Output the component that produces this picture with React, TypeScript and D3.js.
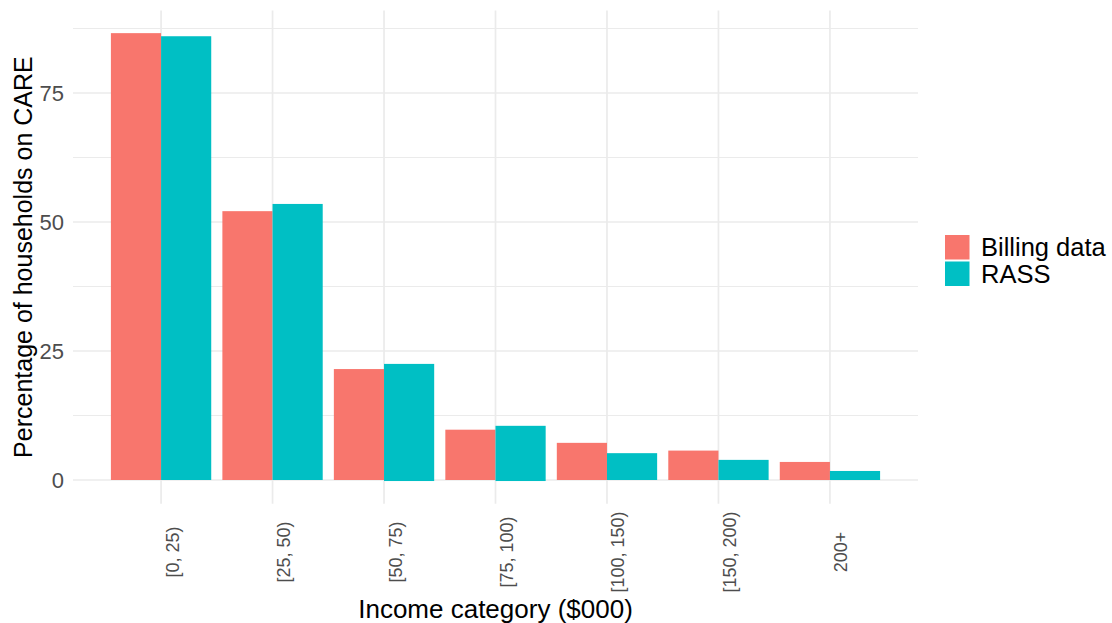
import { useEffect, useRef } from 'react';
import * as d3 from 'd3';

const categories = ['[0, 25)', '[25, 50)', '[50, 75)', '[75, 100)', '[100, 150)', '[150, 200)', '200+'];
const billing = [86.6, 52.1, 21.5, 9.75, 7.2, 5.7, 3.5];
const rass = [86.0, 53.5, 22.5, 10.5, 5.2, 3.9, 1.75];
// a couple of RASS bars dip just under zero in the source
const rassLow = [0, 0, -0.2, -0.2, 0, 0, 0];
const yTicks = [0, 25, 50, 75];
const yMinor = [12.5, 37.5, 62.5, 87.5];
const seriesNames = ['Billing data', 'RASS'];
const seriesColors = ['#F8766D', '#00BFC4'];

const W = 1112;
const H = 623;
const FONT = '"Liberation Sans", Arial, Helvetica, sans-serif';

export default function App() {
  const ref = useRef<SVGSVGElement>(null);

  useEffect(() => {
    if (!ref.current) return;
    const svg = d3.select(ref.current);
    svg.selectAll('*').remove();

    const left = 73;
    const right = 918;
    const x = d3.scalePoint<string>().domain(categories).range([left, right]).padding(0.79);
    const step = x.step();
    const barW = step * 0.45;

    const y = d3.scaleLinear().domain([0, 75]).range([480, 93]);
    const top = y(91);
    const bottom = y(-4.6);

    const g = svg.append('g');

    // grid
    g.selectAll('line.minor')
      .data(yMinor)
      .enter()
      .append('line')
      .attr('x1', left)
      .attr('x2', right)
      .attr('y1', (d) => y(d))
      .attr('y2', (d) => y(d))
      .attr('stroke', '#EBEBEB')
      .attr('stroke-width', 1);

    g.selectAll('line.major')
      .data(yTicks)
      .enter()
      .append('line')
      .attr('x1', left)
      .attr('x2', right)
      .attr('y1', (d) => y(d))
      .attr('y2', (d) => y(d))
      .attr('stroke', '#EBEBEB')
      .attr('stroke-width', 1.7);

    g.selectAll('line.vmajor')
      .data(categories)
      .enter()
      .append('line')
      .attr('x1', (d) => x(d)!)
      .attr('x2', (d) => x(d)!)
      .attr('y1', top)
      .attr('y2', bottom)
      .attr('stroke', '#EBEBEB')
      .attr('stroke-width', 1.7);

    // bars
    const rows = categories.map((c, i) => ({ c, b: billing[i], r: rass[i], lo: rassLow[i] }));
    g.selectAll('rect.billing')
      .data(rows)
      .enter()
      .append('rect')
      .attr('x', (d) => x(d.c)! - barW)
      .attr('y', (d) => y(d.b))
      .attr('width', barW)
      .attr('height', (d) => y(0) - y(d.b))
      .attr('fill', seriesColors[0]);

    g.selectAll('rect.rass')
      .data(rows)
      .enter()
      .append('rect')
      .attr('x', (d) => x(d.c)!)
      .attr('y', (d) => y(d.r))
      .attr('width', barW)
      .attr('height', (d) => y(d.lo) - y(d.r))
      .attr('fill', seriesColors[1]);

    // y tick labels
    g.selectAll('text.ytick')
      .data(yTicks)
      .enter()
      .append('text')
      .attr('x', 64)
      .attr('y', (d) => y(d))
      .attr('dy', '0.36em')
      .attr('text-anchor', 'end')
      .attr('font-size', 22)
      .attr('fill', '#4D4D4D')
      .text((d) => d);

    // x tick labels
    g.selectAll('text.xtick')
      .data(categories)
      .enter()
      .append('text')
      .attr('transform', (d) => `translate(${x(d)! + 17.5},552) rotate(-90)`)
      .attr('text-anchor', 'middle')
      .attr('font-size', 18)
      .attr('fill', '#4D4D4D')
      .text((d) => d);

    // axis titles
    g.append('text')
      .attr('x', (left + right) / 2)
      .attr('y', 618)
      .attr('text-anchor', 'middle')
      .attr('font-size', 26)
      .attr('fill', '#000')
      .text('Income category ($000)');

    g.append('text')
      .attr('transform', `translate(32,${(top + bottom) / 2}) rotate(-90)`)
      .attr('text-anchor', 'middle')
      .attr('font-size', 25)
      .attr('fill', '#000')
      .text('Percentage of households on CARE');

    // legend
    const leg = g.append('g').attr('transform', 'translate(944,234)');
    const key = 26.5;
    seriesNames.forEach((name, i) => {
      leg
        .append('rect')
        .attr('x', 1)
        .attr('y', i * key + 1)
        .attr('width', key - 2)
        .attr('height', key - 2)
        .attr('fill', seriesColors[i]);
      leg
        .append('text')
        .attr('x', 37)
        .attr('y', i * key + key / 2)
        .attr('dy', '0.36em')
        .attr('font-size', 25.5)
        .attr('fill', '#000')
        .text(name);
    });
  }, []);

  return (
    <svg
      ref={ref}
      width={W}
      height={H}
      style={{ position: 'absolute', left: 0, top: 0, background: '#fff', fontFamily: FONT }}
      role="img"
      aria-label="Percentage of households on CARE by income category"
    />
  );
}
